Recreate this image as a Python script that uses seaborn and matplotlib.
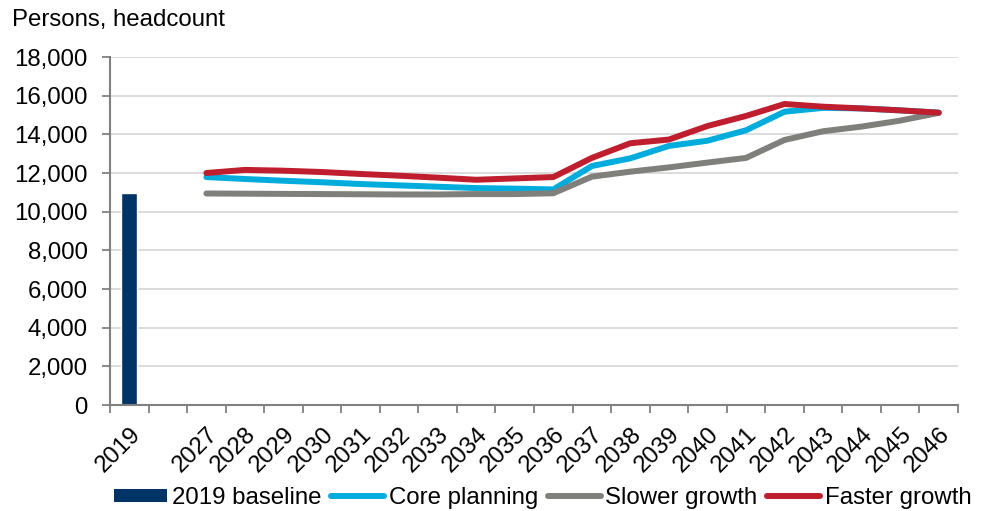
import matplotlib
matplotlib.use("Agg")
import matplotlib.pyplot as plt
from matplotlib.patches import Patch
from matplotlib.lines import Line2D
from matplotlib.ticker import FuncFormatter, FixedLocator
import seaborn as sns
import pandas as pd

# Category axis: baseline year, an empty spacer slot, then the projection years
categories = ["2019", ""] + [str(y) for y in range(2027, 2047)]
years = [str(y) for y in range(2027, 2047)]

baseline_value = [10950]

core_planning = [11790, 11690, 11600, 11520, 11430, 11360, 11290, 11220, 11190, 11150,
                 12360, 12760, 13400, 13670, 14210, 15170, 15370, 15340, 15240, 15120]
slower_growth = [10940, 10930, 10920, 10910, 10900, 10890, 10890, 10910, 10910, 10950,
                 11810, 12070, 12290, 12540, 12780, 13710, 14160, 14400, 14710, 15110]
faster_growth = [12000, 12160, 12120, 12050, 11950, 11860, 11760, 11650, 11720, 11790,
                 12780, 13540, 13730, 14430, 14950, 15570, 15430, 15340, 15240, 15120]

series_names = ["Core planning", "Slower growth", "Faster growth"]
series_colors = {"Core planning": "#00acdc", "Slower growth": "#7f7f7b", "Faster growth": "#be1e2d"}
bar_color = "#003366"
bar_label = "2019 baseline"

sns.set_theme(style="white")
plt.rcParams["font.family"] = ["Liberation Sans", "DejaVu Sans"]
plt.rcParams["font.size"] = 17.3
plt.rcParams["text.color"] = "black"
plt.rcParams["xtick.labelcolor"] = "black"
plt.rcParams["ytick.labelcolor"] = "black"

fig = plt.figure(figsize=(9.81, 5.11), dpi=100)
ax = fig.add_axes([110 / 981, 1 - 405 / 511, (958 - 110) / 981, (405 - 57) / 511])

# Baseline bar on the categorical axis
bar_df = pd.DataFrame({"category": ["2019"], "value": baseline_value})
sns.barplot(data=bar_df, x="category", y="value", order=categories,
            color=bar_color, saturation=1, width=0.42, ax=ax)

# Projection lines at the category positions of each year
pos = {c: i for i, c in enumerate(categories)}
long_df = pd.DataFrame({
    "pos": [pos[y] for y in years] * 3,
    "value": core_planning + slower_growth + faster_growth,
    "scenario": [n for n in series_names for _ in years],
})
sns.lineplot(data=long_df, x="pos", y="value", hue="scenario", hue_order=series_names,
             palette=series_colors, linewidth=4.3, ax=ax, legend=False,
             solid_capstyle="round", solid_joinstyle="round")

# Axes styling
ax.set_xlim(-0.5, len(categories) - 0.5)
ax.set_ylim(0, 18000)
ax.set_yticks(range(0, 18001, 2000))
ax.yaxis.set_major_formatter(FuncFormatter(lambda v, p: f"{int(v):,}"))
ax.yaxis.grid(True, color="#d9d9d9", linewidth=1.3)
ax.set_axisbelow(True)
ax.set_xlabel("")
ax.set_ylabel("")

ax.set_xticks(range(len(categories)))
ax.set_xticklabels(categories, rotation=45, ha="right", rotation_mode="anchor")
ax.xaxis.set_minor_locator(FixedLocator([i - 0.5 for i in range(len(categories) + 1)]))
ax.tick_params(axis="x", which="major", length=0, pad=13, labelsize=17.3, labelcolor="black")
ax.tick_params(axis="x", which="minor", length=6, width=1.3, color="#808080", direction="out")
ax.tick_params(axis="y", which="major", length=6, width=1.3, color="#808080", direction="out",
               pad=10, labelsize=17.3, labelcolor="black")
ax.xaxis.set_tick_params(which="minor", bottom=True)
ax.yaxis.set_tick_params(left=True)

for side in ["top", "right"]:
    ax.spines[side].set_visible(False)
for side in ["left", "bottom"]:
    ax.spines[side].set_color("#808080")
    ax.spines[side].set_linewidth(1.5)

fig.text(12 / 981, 1 - 9 / 511, "Persons, headcount", ha="left", va="top",
         fontsize=17.3, color="black")

handles = [Patch(facecolor=bar_color, edgecolor="none", label=bar_label)]
handles += [Line2D([0], [0], color=series_colors[n], linewidth=4.3,
                   solid_capstyle="round", label=n) for n in series_names]
fig.legend(handles=handles, loc="center", bbox_to_anchor=(543 / 981, 1 - 498 / 511),
           ncol=4, frameon=False, fontsize=17.3, handlelength=2.2, handleheight=0.5,
           handletextpad=0.2, columnspacing=0.4, borderaxespad=0, borderpad=0,
           labelcolor="black")

fig.savefig("out.png", dpi=100)
